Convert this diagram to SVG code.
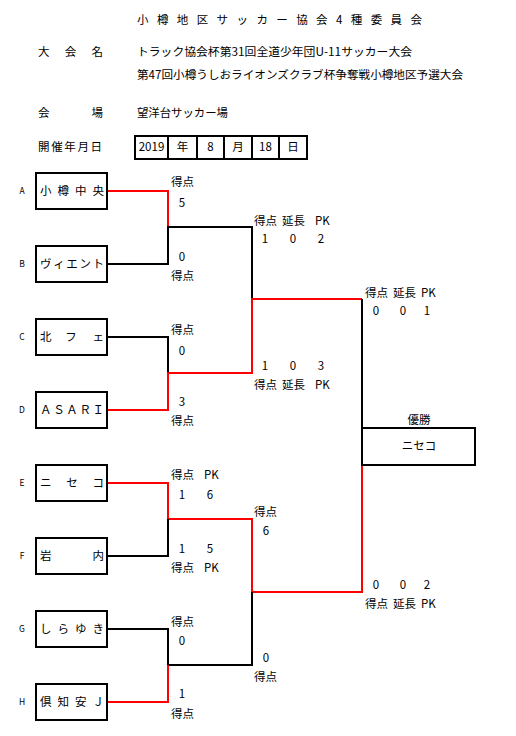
<svg xmlns="http://www.w3.org/2000/svg" width="516" height="736" viewBox="0 0 516 736">
<style>
text{font-family:"Noto Sans CJK JP","Liberation Sans",sans-serif;font-size:11.5px;fill:#000}
.s{font-size:8.5px}
.c{text-anchor:middle}
.box{fill:#fff;stroke:#000;stroke-width:2}
.b{fill:none;stroke:#000;stroke-width:2}
.r{fill:none;stroke:#f00;stroke-width:2}
</style>
<rect width="516" height="736" fill="#fff"/>
<g id="header">
<text x="137" y="24" textLength="285" lengthAdjust="spacing">小樽地区サッカー協会4種委員会</text>
<text x="38" y="56" textLength="65" lengthAdjust="spacing">大会名</text>
<text x="137" y="56" textLength="275" lengthAdjust="spacingAndGlyphs">トラック協会杯第31回全道少年団U-11サッカー大会</text>
<text x="137" y="79" textLength="326" lengthAdjust="spacingAndGlyphs">第47回小樽うしおライオンズクラブ杯争奪戦小樽地区予選大会</text>
<text x="38" y="117" textLength="65" lengthAdjust="spacing">会場</text>
<text x="137" y="117" textLength="91" lengthAdjust="spacingAndGlyphs">望洋台サッカー場</text>
<text x="38" y="151" textLength="64" lengthAdjust="spacing">開催年月日</text>
</g>
<g id="date">
<rect x="135" y="136" width="172" height="23" class="box"/>
<path class="b" d="M168 136V159M197 136V159M224 136V159M252 136V159M279 136V159"/>
<text x="151.5" y="151" class="c">2019</text>
<text x="182.5" y="151" class="c">年</text>
<text x="210.5" y="151" class="c">8</text>
<text x="238" y="151" class="c">月</text>
<text x="265.5" y="151" class="c">18</text>
<text x="293" y="151" class="c">日</text>
</g>
<g id="connectors">
<path class="r" d="M107 191H168V227"/>
<path class="b" d="M107 264H168V227H252V299"/>
<path class="b" d="M107 337H168V373"/>
<path class="r" d="M107 410H168V373H252V299H362"/>
<path class="b" d="M362 299V428"/>
<path class="r" d="M107 483H168V519H252V592H362V465"/>
<path class="b" d="M107 556H168V519"/>
<path class="b" d="M107 629H168V665H252V592"/>
<path class="r" d="M107 702H168V665"/>
</g>
<g id="teamA"><text x="22" y="194" class="s c">A</text><rect x="36" y="173" width="71" height="36" class="box"/><text x="40" y="195" textLength="64" lengthAdjust="spacing">小樽中央</text></g>
<g id="teamB"><text x="22" y="267" class="s c">B</text><rect x="36" y="246" width="71" height="36" class="box"/><text x="40" y="268" textLength="64" lengthAdjust="spacing">ヴィエント</text></g>
<g id="teamC"><text x="22" y="340" class="s c">C</text><rect x="36" y="319" width="71" height="36" class="box"/><text x="40" y="341">北</text><text x="71" y="341" class="c">フ</text><text x="104" y="341" style="text-anchor:end">ェ</text></g>
<g id="teamD"><text x="22" y="413" class="s c">D</text><rect x="36" y="392" width="71" height="36" class="box"/><text x="40" y="414" textLength="64" lengthAdjust="spacing">ＡＳＡＲＩ</text></g>
<g id="teamE"><text x="22" y="486" class="s c">E</text><rect x="36" y="465" width="71" height="36" class="box"/><text x="40" y="487" textLength="64" lengthAdjust="spacing">ニセコ</text></g>
<g id="teamF"><text x="22" y="559" class="s c">F</text><rect x="36" y="538" width="71" height="36" class="box"/><text x="40" y="560" textLength="64" lengthAdjust="spacing">岩内</text></g>
<g id="teamG"><text x="22" y="632" class="s c">G</text><rect x="36" y="611" width="71" height="36" class="box"/><text x="40" y="633" textLength="64" lengthAdjust="spacing">しらゆき</text></g>
<g id="teamH"><text x="22" y="705" class="s c">H</text><rect x="36" y="684" width="71" height="36" class="box"/><text x="40" y="706" textLength="64" lengthAdjust="spacing">倶知安Ｊ</text></g>
<g id="winner">
<text x="419" y="424" class="c">優勝</text>
<rect x="362" y="428" width="113" height="37" class="box"/>
<text x="419" y="450" class="c">ニセコ</text>
</g>
<g id="scores">
<text x="171" y="186">得点</text><text x="182" y="207" class="c">5</text>
<text x="182" y="261" class="c">0</text><text x="171" y="280">得点</text>
<text x="171" y="334">得点</text><text x="182" y="355" class="c">0</text>
<text x="182" y="406" class="c">3</text><text x="171" y="425">得点</text>
<text x="171" y="479">得点</text><text x="204" y="479">PK</text>
<text x="182" y="499" class="c">1</text><text x="210" y="499" class="c">6</text>
<text x="182" y="553" class="c">1</text><text x="210" y="553" class="c">5</text>
<text x="171" y="572">得点</text><text x="204" y="572">PK</text>
<text x="171" y="626">得点</text><text x="182" y="645" class="c">0</text>
<text x="182" y="698" class="c">1</text><text x="171" y="718">得点</text>
<text x="254" y="225">得点</text><text x="282" y="225">延長</text><text x="315" y="225">PK</text>
<text x="265" y="243" class="c">1</text><text x="293" y="243" class="c">0</text><text x="321" y="243" class="c">2</text>
<text x="265" y="370" class="c">1</text><text x="293" y="370" class="c">0</text><text x="321" y="370" class="c">3</text>
<text x="254" y="389">得点</text><text x="282" y="389">延長</text><text x="315" y="389">PK</text>
<text x="254" y="516">得点</text><text x="266" y="535" class="c">6</text>
<text x="266" y="662" class="c">0</text><text x="254" y="681">得点</text>
<text x="365" y="297">得点</text><text x="393" y="297">延長</text><text x="421" y="297">PK</text>
<text x="376" y="315" class="c">0</text><text x="403" y="315" class="c">0</text><text x="427" y="315" class="c">1</text>
<text x="376" y="589" class="c">0</text><text x="403" y="589" class="c">0</text><text x="427" y="589" class="c">2</text>
<text x="365" y="608">得点</text><text x="393" y="608">延長</text><text x="421" y="608">PK</text>
</g>
</svg>
